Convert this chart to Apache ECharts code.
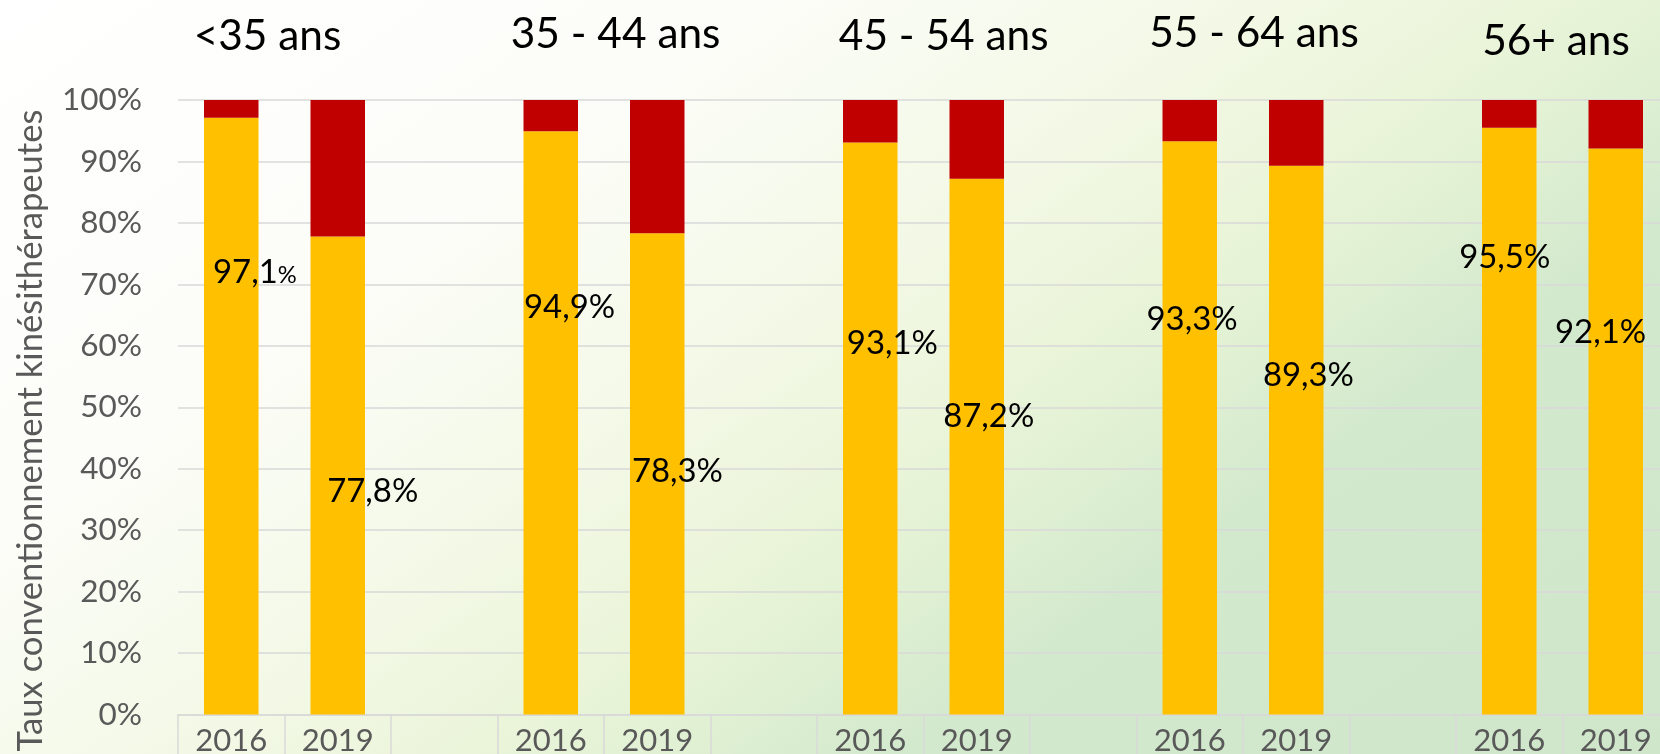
<!DOCTYPE html>
<html>
<head>
<meta charset="utf-8">
<script src="https://cdn.jsdelivr.net/npm/echarts@6/dist/echarts.min.js"></script>
<style>
  html, body {margin: 0; padding: 0; overflow: hidden;}
  #chart {
    width: 1660px;
    height: 754px;
    background: linear-gradient(145deg, #ffffff 0%, #fcfdf8 28%, #f4f9e8 44%, #ebf5da 56%, #e0f0d3 64%, #d3e9cd 72%, #cfe6cb 100%);
  }
</style>
</head>
<body>
<div id="chart"></div>
<script>
const years = ['2016', '2019', '', '2016', '2019', '', '2016', '2019', '', '2016', '2019', '', '2016', '2019']
const ageGroups = ['<35 ans', '35 - 44 ans', '45 - 54 ans', '55 - 64 ans', '56+ ans']
const conventionnes = [97.1, 77.8, null, 94.9, 78.3, null, 93.1, 87.2, null, 93.3, 89.3, null, 95.5, 92.1]
const nonConventionnes = [2.9, 22.2, null, 5.1, 21.7, null, 6.9, 12.8, null, 6.7, 10.7, null, 4.5, 7.9]
const axisTitle = 'Taux conventionnement kinésithérapeutes'

// labels were dragged by hand on the slide: [dx, dy] from the middle of the yellow bar
const labelShift = [[23.6, -143.7], [35, 15.8], null, [18.8, -115.9], [20.2, -2.4], null,
  [22.1, -85], [12, -30.6], null, [2.3, -108.2], [12.2, -65.1], null, [-4.5, -163.8], [-15.2, -98.9]]
// group titles: [dx from group centre, y]
const titleShift = [[-17, 36], [11.6, 34], [20.2, 36], [11, 33], [-6.5, 41.5]]

const FONT = 'Lato'
const ctx = document.createElement('canvas').getContext('2d')
const fit = (text, width) => {
  ctx.font = `100px ${FONT}`
  return Math.round(1000 * width / ctx.measureText(text).width) / 10
}
const tickSize = fit('100%', 80)
const yearSize = fit('2016', 72)
const valueSize = fit('77,8%', 91)
const titleSize = fit('45 - 54 ans', 210)
const nameSize = fit(axisTitle, 643)

const fmt = v => v.toFixed(1).replace('.', ',')

const chart = echarts.init(document.getElementById('chart'))
chart.setOption({
  backgroundColor: 'transparent',
  animation: false,
  // the plot runs past the right edge of the slide
  grid: {left: 178, top: 100, width: 14 * 106.5, height: 614.5, outerBoundsMode: 'none'},
  xAxis: {
    type: 'category',
    data: years,
    axisLine: {lineStyle: {color: '#d9d9d9', width: 1.5}},
    axisTick: {show: true, interval: 0, length: 60, lineStyle: {color: '#d9d9d9', width: 1.5}},
    axisLabel: {interval: 0, margin: 11, color: '#595959', fontFamily: FONT, fontSize: yearSize, lineHeight: yearSize}
  },
  yAxis: {
    type: 'value',
    min: 0,
    max: 100,
    interval: 10,
    axisLabel: {formatter: '{value}%', margin: 36, color: '#595959', fontFamily: FONT, fontSize: tickSize},
    splitLine: {lineStyle: {color: '#d9d9d9', width: 1.5}}
  },
  series: [
    {
      name: 'Conventionnés',
      type: 'bar',
      stack: 'total',
      barWidth: 54.5,
      itemStyle: {color: '#ffc000'},
      data: conventionnes.map((v, i) => v == null ? null : {value: v, label: {offset: labelShift[i]}}),
      label: {
        show: true,
        position: 'inside',
        color: '#000',
        fontFamily: FONT,
        fontSize: valueSize,
        lineHeight: valueSize,
        formatter: p => p.dataIndex === 0 ? `{n|${fmt(p.value)}}{s|%}` : `${fmt(p.value)}%`,
        rich: {
          n: {color: '#000', fontFamily: FONT, fontSize: valueSize, lineHeight: valueSize},
          s: {color: '#000', fontFamily: FONT, fontSize: valueSize * 0.72, lineHeight: valueSize, padding: [5, 0, 0, 0]}
        }
      }
    },
    {
      name: 'Non conventionnés',
      type: 'bar',
      stack: 'total',
      barWidth: 54.5,
      itemStyle: {color: '#c00000'},
      data: nonConventionnes
    }
  ]
})

const titles = ageGroups.map((g, k) => {
  const a = chart.convertToPixel({xAxisIndex: 0}, k * 3)
  const b = chart.convertToPixel({xAxisIndex: 0}, k * 3 + 1)
  return {
    type: 'text',
    x: (a + b) / 2 + titleShift[k][0],
    y: titleShift[k][1],
    style: {text: g, fill: '#000', fontFamily: FONT, fontSize: titleSize, align: 'center', verticalAlign: 'middle'}
  }
})

chart.setOption({
  graphic: [
    ...titles,
    {
      type: 'text',
      x: 30.4,
      y: 430.5,
      rotation: Math.PI / 2,
      style: {text: axisTitle, fill: '#595959', fontFamily: FONT, fontSize: nameSize, align: 'center', verticalAlign: 'middle'}
    }
  ]
})
</script>
</body>
</html>
